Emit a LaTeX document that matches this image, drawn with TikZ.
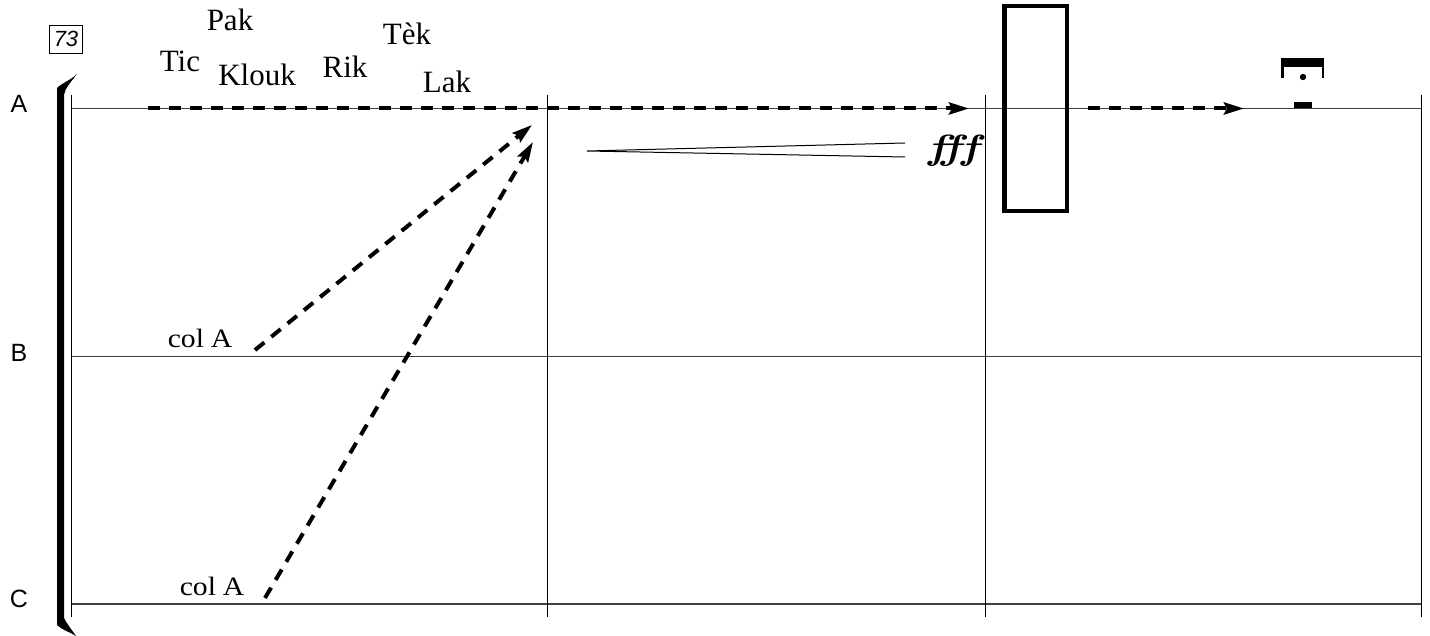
\documentclass[tikz,border=0pt]{standalone}
\usepackage{fontspec}
\newfontfamily\lsans{Liberation Sans}
\newfontfamily\lserif{Liberation Serif}
\usetikzlibrary{arrows.meta}
\begin{document}
\begin{tikzpicture}[x=1pt,y=-1pt,
  staffline/.style={draw=black!75,line width=1.1pt},
  barline/.style={draw=black,line width=1pt},
  dasharrow/.style={line width=4pt,dash pattern=on 12pt off 9pt,-{Stealth[length=20pt,width=12pt,inset=3pt]}},
  word/.style={anchor=base,inner sep=0pt,font=\lserif\fontsize{31}{31}\selectfont},
  colword/.style={anchor=base,inner sep=0pt,font=\lserif\fontsize{26.5}{26.5}\selectfont},
  partlabel/.style={anchor=base,inner sep=0pt,font=\lsans\fontsize{25}{25}\selectfont}]
\useasboundingbox (0,0) rectangle (1430,636);
% staff lines
\coordinate (Al) at (71,108.5); \coordinate (Ar) at (1421,108.5);
\coordinate (Bl) at (71,356.5); \coordinate (Br) at (1421,356.5);
\coordinate (Cl) at (71,604); \coordinate (Cr) at (1421,604);
\draw[staffline] (Al) -- (Ar);
\draw[staffline] (Bl) -- (Br);
\draw[staffline] (Cl) -- (Cr);
% barlines
\foreach \bx/\nm in {71/b0,547/b1,985/b2,1421/b3}{
  \coordinate (\nm t) at (\bx,95); \coordinate (\nm b) at (\bx,617);
  \draw[barline] (\nm t) -- (\nm b);
}
% bracket
\fill (57,625) -- (57,88) .. controls (62,83) and (71,80) .. (77,74)
  .. controls (71,82) and (65,88) .. (64,95) -- (64,618)
  .. controls (67,624) and (72,630) .. (76,636)
  .. controls (70,632) and (62,630) .. (57,625) -- cycle;
% part labels
\node[partlabel] (la) at (19,113) {A};
\node[partlabel] (lb) at (19,362) {B};
\node[partlabel] (lc) at (19,607.5) {C};
% rehearsal mark
\node[draw,line width=0.9pt,minimum width=33pt,minimum height=28pt,inner sep=0pt,
  font=\lsans\itshape\fontsize{22}{22}\selectfont] (reh) at (66,39) {73};
% words
\node[word] (pak) at (230,31) {Pak};
\node[word] (tic) at (180,72) {Tic};
\node[word] (klouk) at (257,86) {Klouk};
\node[word] (rik) at (345,78) {Rik};
\node[word] (tek) at (407,45) {Tèk};
\node[word] (lak) at (447,93) {Lak};
\node[colword] (colB) at (200,348) {\scalebox{1.12}[1]{col\hspace{6pt}A}};
\node[colword] (colC) at (212,595) {\scalebox{1.12}[1]{col\hspace{6pt}A}};
% dashed arrows
\coordinate (a1s) at (148,108.5); \coordinate (a1e) at (969,108.5);
\coordinate (a2s) at (1088,108.5); \coordinate (a2e) at (1244,108.5);
\coordinate (bS) at (255,350); \coordinate (bE) at (532,125);
\coordinate (cS) at (265,598); \coordinate (cE) at (533,142);
\draw[dasharrow] (a1s) -- (a1e);
\draw[dasharrow] (a2s) -- (a2e);
\draw[dasharrow] (bS) -- (bE);
\draw[dasharrow] (cS) -- (cE);
% hairpin
\coordinate (hp) at (587,151); \coordinate (hu) at (905,143); \coordinate (hl) at (905,157);
\draw[line width=1pt] (hu) -- (hp) -- (hl);
\node[inner sep=0pt] (fff) at (954,151) {\scalebox{1.25}[1]{\fontsize{35}{35}\selectfont\bfseries\itshape fff}};
% box
\draw[line width=4.5pt] (1004.5,6) rectangle (1067,211);
% fermata and rest
\fill (1281,58) rectangle (1324,67);
\fill (1281,58) rectangle (1283.5,78);
\fill (1321.5,58) rectangle (1324,78);
\fill (1303,77) circle (3.2pt);
\fill (1294,102) rectangle (1312,108.5);
\end{tikzpicture}
\end{document}
